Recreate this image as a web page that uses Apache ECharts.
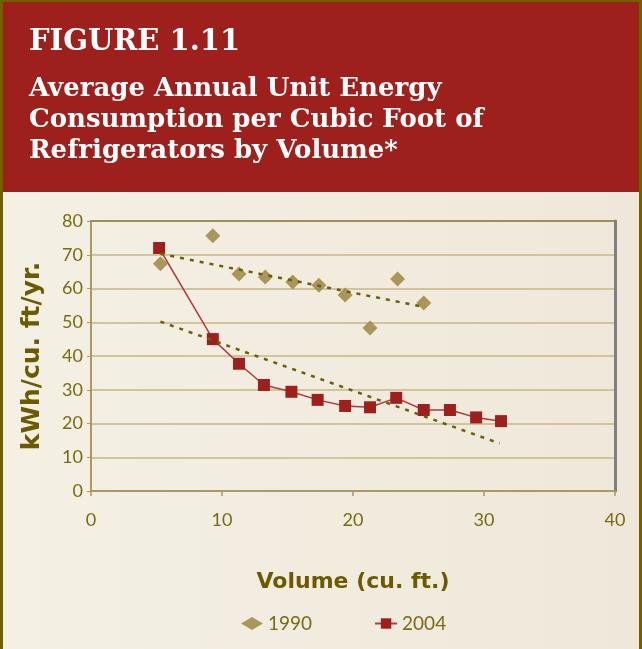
<!DOCTYPE html>
<html>
<head>
<meta charset="utf-8">
<script src="https://cdn.jsdelivr.net/npm/echarts@6/dist/echarts.min.js"></script>
<style>
  html, body { margin: 0; padding: 0; }
  #chart { width: 642px; height: 649px; }
</style>
</head>
<body>
<div id="chart"></div>
<script>
// 1990 models (diamonds)
var vol1990 = [5.3, 9.3, 11.3, 13.3, 15.4, 17.4, 19.4, 21.3, 23.4, 25.4];
var use1990 = [67.3, 75.6, 64.3, 63.4, 61.9, 61.0, 58.1, 48.3, 62.8, 55.7];
// 2004 models (squares + line)
var vol2004 = [5.2, 9.3, 11.3, 13.2, 15.3, 17.3, 19.4, 21.3, 23.3, 25.4, 27.4, 29.4, 31.3];
var use2004 = [72.0, 45.0, 37.7, 31.4, 29.4, 27.0, 25.2, 24.8, 27.6, 24.0, 24.0, 21.8, 20.7];
// linear trend lines (end points)
var trendVol1990 = [5.3, 25.3];
var trendUse1990 = [70.3, 54.6];
var trendVol2004 = [5.3, 31.2];
var trendUse2004 = [50.2, 14.1];

var xTicks = [0, 10, 20, 30, 40];
var yTicks = [0, 10, 20, 30, 40, 50, 60, 70, 80];

function pairs(xs, ys) {
  return xs.map(function (x, i) { return [x, ys[i]]; });
}

var chartDom = document.getElementById('chart');
var chart = echarts.init(chartDom);

var olive = '#7a6a12';
var titleFont = '"DejaVu Serif", serif';
var sansBold = '"DejaVu Sans", sans-serif';
var sans = 'Lato, "Open Sans", sans-serif';

var option = {
  animation: false,
  backgroundColor: {
    type: 'linear', x: 0, y: 0, x2: 1, y2: 0,
    colorStops: [{ offset: 0, color: '#f4f0e4' }, { offset: 1, color: '#efe8da' }]
  },
  graphic: [
    { type: 'rect', shape: { x: 0, y: 0, width: 642, height: 192 }, style: { fill: '#9e201d' }, z: 0 },
    { type: 'rect', shape: { x: 0, y: 0, width: 642, height: 2 }, style: { fill: '#6f6100' }, z: 1 },
    { type: 'rect', shape: { x: 0, y: 0, width: 3, height: 649 }, style: { fill: '#6f6100' }, z: 1 },
    { type: 'rect', shape: { x: 639, y: 0, width: 3, height: 649 }, style: { fill: '#6f6100' }, z: 1 },
    { type: 'text', left: 29, top: 28, z: 2,
      style: { text: 'FIGURE 1.11', fill: '#fff', font: 'bold 29px ' + titleFont } },
    { type: 'text', left: 29, top: 74, z: 2,
      style: { text: 'Average Annual Unit Energy\nConsumption per Cubic Foot of\nRefrigerators by Volume*',
        fill: '#fff', font: 'bold 26px ' + titleFont, lineHeight: 31 } }
  ],
  grid: { left: 91, right: 27, top: 221, bottom: 158 },
  legend: {
    left: 236, top: 609, itemGap: 62, itemWidth: 22, itemHeight: 13,
    data: ['1990', '2004'],
    textStyle: { color: olive, fontSize: 19, fontFamily: sans }
  },
  xAxis: [{
    type: 'value', min: 0, max: 40, interval: 10,
    name: 'Volume (cu. ft.)', nameLocation: 'middle', nameGap: 80,
    nameTextStyle: { color: '#6b5a00', fontSize: 22, fontWeight: 'bold', fontFamily: sansBold },
    axisLine: { onZero: false, lineStyle: { color: '#a89a62', width: 2 } },
    axisTick: { show: true, length: 5, lineStyle: { color: '#a89a62', width: 1.5 } },
    axisLabel: { color: olive, fontSize: 18, fontFamily: sans, margin: 20,
      formatter: function (v) { return xTicks.indexOf(v) >= 0 ? String(v) : ''; } },
    splitLine: { show: false }
  }, {
    type: 'value', min: 0, max: 40, interval: 10, position: 'top',
    axisLine: { show: true, onZero: false, lineStyle: { color: '#8e7f40', width: 1.5 } },
    axisTick: { show: false }, axisLabel: { show: false }, splitLine: { show: false }
  }],
  yAxis: [{
    type: 'value', min: 0, max: 80, interval: 10,
    name: 'kWh/cu. ft/yr.', nameLocation: 'middle', nameGap: 46, nameRotate: 90,
    nameTextStyle: { color: '#6b5a00', fontSize: 25, fontWeight: 'bold', fontFamily: sansBold },
    axisLine: { show: true, onZero: false, lineStyle: { color: '#a89a62', width: 2 } },
    axisTick: { show: true, length: 4, lineStyle: { color: '#a89a62' } },
    axisLabel: { color: olive, fontSize: 18, fontFamily: sans, margin: 8,
      formatter: function (v) { return yTicks.indexOf(v) >= 0 ? String(v) : ''; } },
    splitLine: { show: true, lineStyle: { color: '#c6b685', width: 1.5 } }
  }, {
    type: 'value', min: 0, max: 80, interval: 10, position: 'right',
    axisLine: { show: true, onZero: false, lineStyle: { color: '#808080', width: 3 } },
    axisTick: { show: false }, axisLabel: { show: false }, splitLine: { show: false }
  }],
  series: [
    {
      name: '1990', type: 'scatter', symbol: 'diamond', symbolSize: 15,
      itemStyle: { color: '#968139' },
      data: pairs(vol1990, use1990), z: 3
    },
    {
      name: '2004', type: 'line', symbol: 'rect', symbolSize: 12,
      itemStyle: { color: '#9e1f1c' },
      lineStyle: { color: '#b5383a', width: 1.5 },
      data: pairs(vol2004, use2004), z: 3
    },
    {
      name: 'trend1990', type: 'line', symbol: 'none', silent: true,
      lineStyle: { color: '#6e5e00', width: 2.5, type: [4, 6] },
      data: pairs(trendVol1990, trendUse1990), z: 4
    },
    {
      name: 'trend2004', type: 'line', symbol: 'none', silent: true,
      lineStyle: { color: '#6e5e00', width: 2.5, type: [4, 6] },
      data: pairs(trendVol2004, trendUse2004), z: 4
    }
  ]
};

chart.setOption(option);
</script>
</body>
</html>
